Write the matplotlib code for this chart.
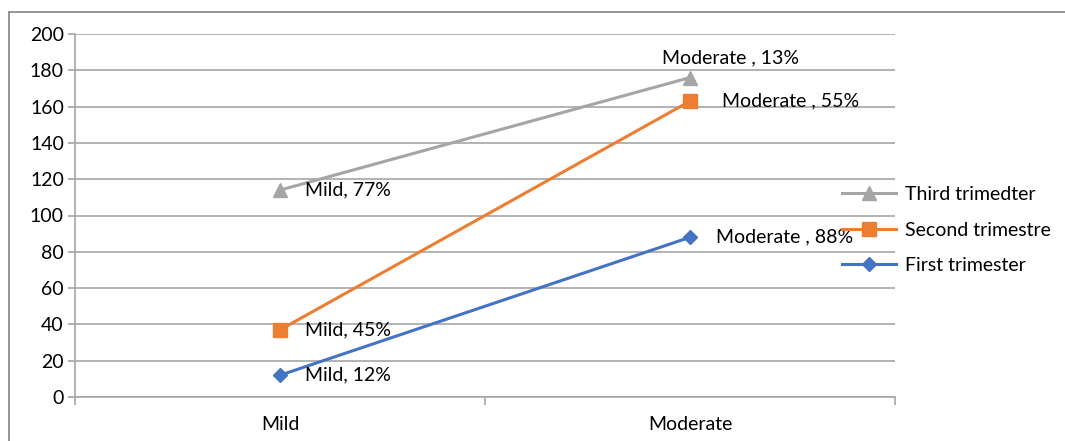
import matplotlib.pyplot as plt
from matplotlib.lines import Line2D

plt.rcParams['font.family'] = ['Lato', 'DejaVu Sans']

categories = ['Mild', 'Moderate']
third = [114, 176]
second = [37, 163]
first = [12, 88]
third_labels = ['Mild, 77%', 'Moderate , 13%']
second_labels = ['Mild, 45%', 'Moderate , 55%']
first_labels = ['Mild, 12%', 'Moderate , 88%']
series_names = ['Third trimedter', 'Second trimestre', 'First trimester']

grid_col = '#a6a6a6'
c_gray = '#a5a5a5'
c_orange = '#ed7d31'
c_blue = '#4472c4'

fig = plt.figure(figsize=(10.65, 4.41), dpi=100)
ax = fig.add_axes([75 / 1065, 1 - 397 / 441, 820 / 1065, 363 / 441])

x = list(range(len(categories)))
ax.plot(x, first, color=c_blue, lw=2.2, marker='D', ms=7.5, zorder=3)
ax.plot(x, second, color=c_orange, lw=2.2, marker='s', ms=10, zorder=3)
ax.plot(x, third, color=c_gray, lw=2.2, marker='^', ms=10, zorder=3)

fs = 14
# data labels
ax.annotate(third_labels[0], (x[0], third[0]), xytext=(18, 0), textcoords='offset points',
            va='center', ha='left', fontsize=fs)
ax.annotate(third_labels[1], (x[1], third[1]), xytext=(-20, 14), textcoords='offset points',
            va='center', ha='left', fontsize=fs)
ax.annotate(second_labels[0], (x[0], second[0]), xytext=(18, 0), textcoords='offset points',
            va='center', ha='left', fontsize=fs)
ax.annotate(second_labels[1], (x[1], second[1]), xytext=(23, 0), textcoords='offset points',
            va='center', ha='left', fontsize=fs)
ax.annotate(first_labels[0], (x[0], first[0]), xytext=(18, 0), textcoords='offset points',
            va='center', ha='left', fontsize=fs)
ax.annotate(first_labels[1], (x[1], first[1]), xytext=(19, 0), textcoords='offset points',
            va='center', ha='left', fontsize=fs)

ax.set_xlim(-0.5, 1.5)
ax.set_ylim(0, 200)
ax.set_yticks(range(0, 201, 20))
ax.set_xticks(x)
ax.set_xticklabels(categories)
ax.set_xticks([-0.5, 0.5, 1.5], minor=True)
ax.tick_params(axis='x', which='major', length=0, pad=14, labelsize=fs)
ax.tick_params(axis='x', which='minor', length=6, color=grid_col, width=1.2)
ax.tick_params(axis='y', length=5, color=grid_col, width=1.2, labelsize=fs, pad=3)
ax.yaxis.grid(True, color=grid_col, lw=1.2)
ax.set_axisbelow(True)
for s in ['top', 'right']:
    ax.spines[s].set_visible(False)
for s in ['left', 'bottom']:
    ax.spines[s].set_color(grid_col)
    ax.spines[s].set_linewidth(1.2)

handles = [
    Line2D([], [], color=c_gray, lw=2.2, marker='^', ms=10),
    Line2D([], [], color=c_orange, lw=2.2, marker='s', ms=10),
    Line2D([], [], color=c_blue, lw=2.2, marker='D', ms=7.5),
]
fig.legend(handles, series_names, loc='center left', bbox_to_anchor=(834 / 1065, 1 - 230 / 441),
           frameon=False, fontsize=fs, handlelength=2.8, handletextpad=0.45, labelspacing=0.95,
           borderaxespad=0)

# chart frame
fig.add_artist(Line2D([9 / 1065, 9 / 1065], [0, 1 - 12 / 441], color='#8c8c8c', lw=1.3,
                      transform=fig.transFigure))
fig.add_artist(Line2D([9 / 1065, 1], [1 - 12 / 441, 1 - 12 / 441], color='#8c8c8c', lw=1.3,
                      transform=fig.transFigure))

fig.savefig('out.png', dpi=100)
